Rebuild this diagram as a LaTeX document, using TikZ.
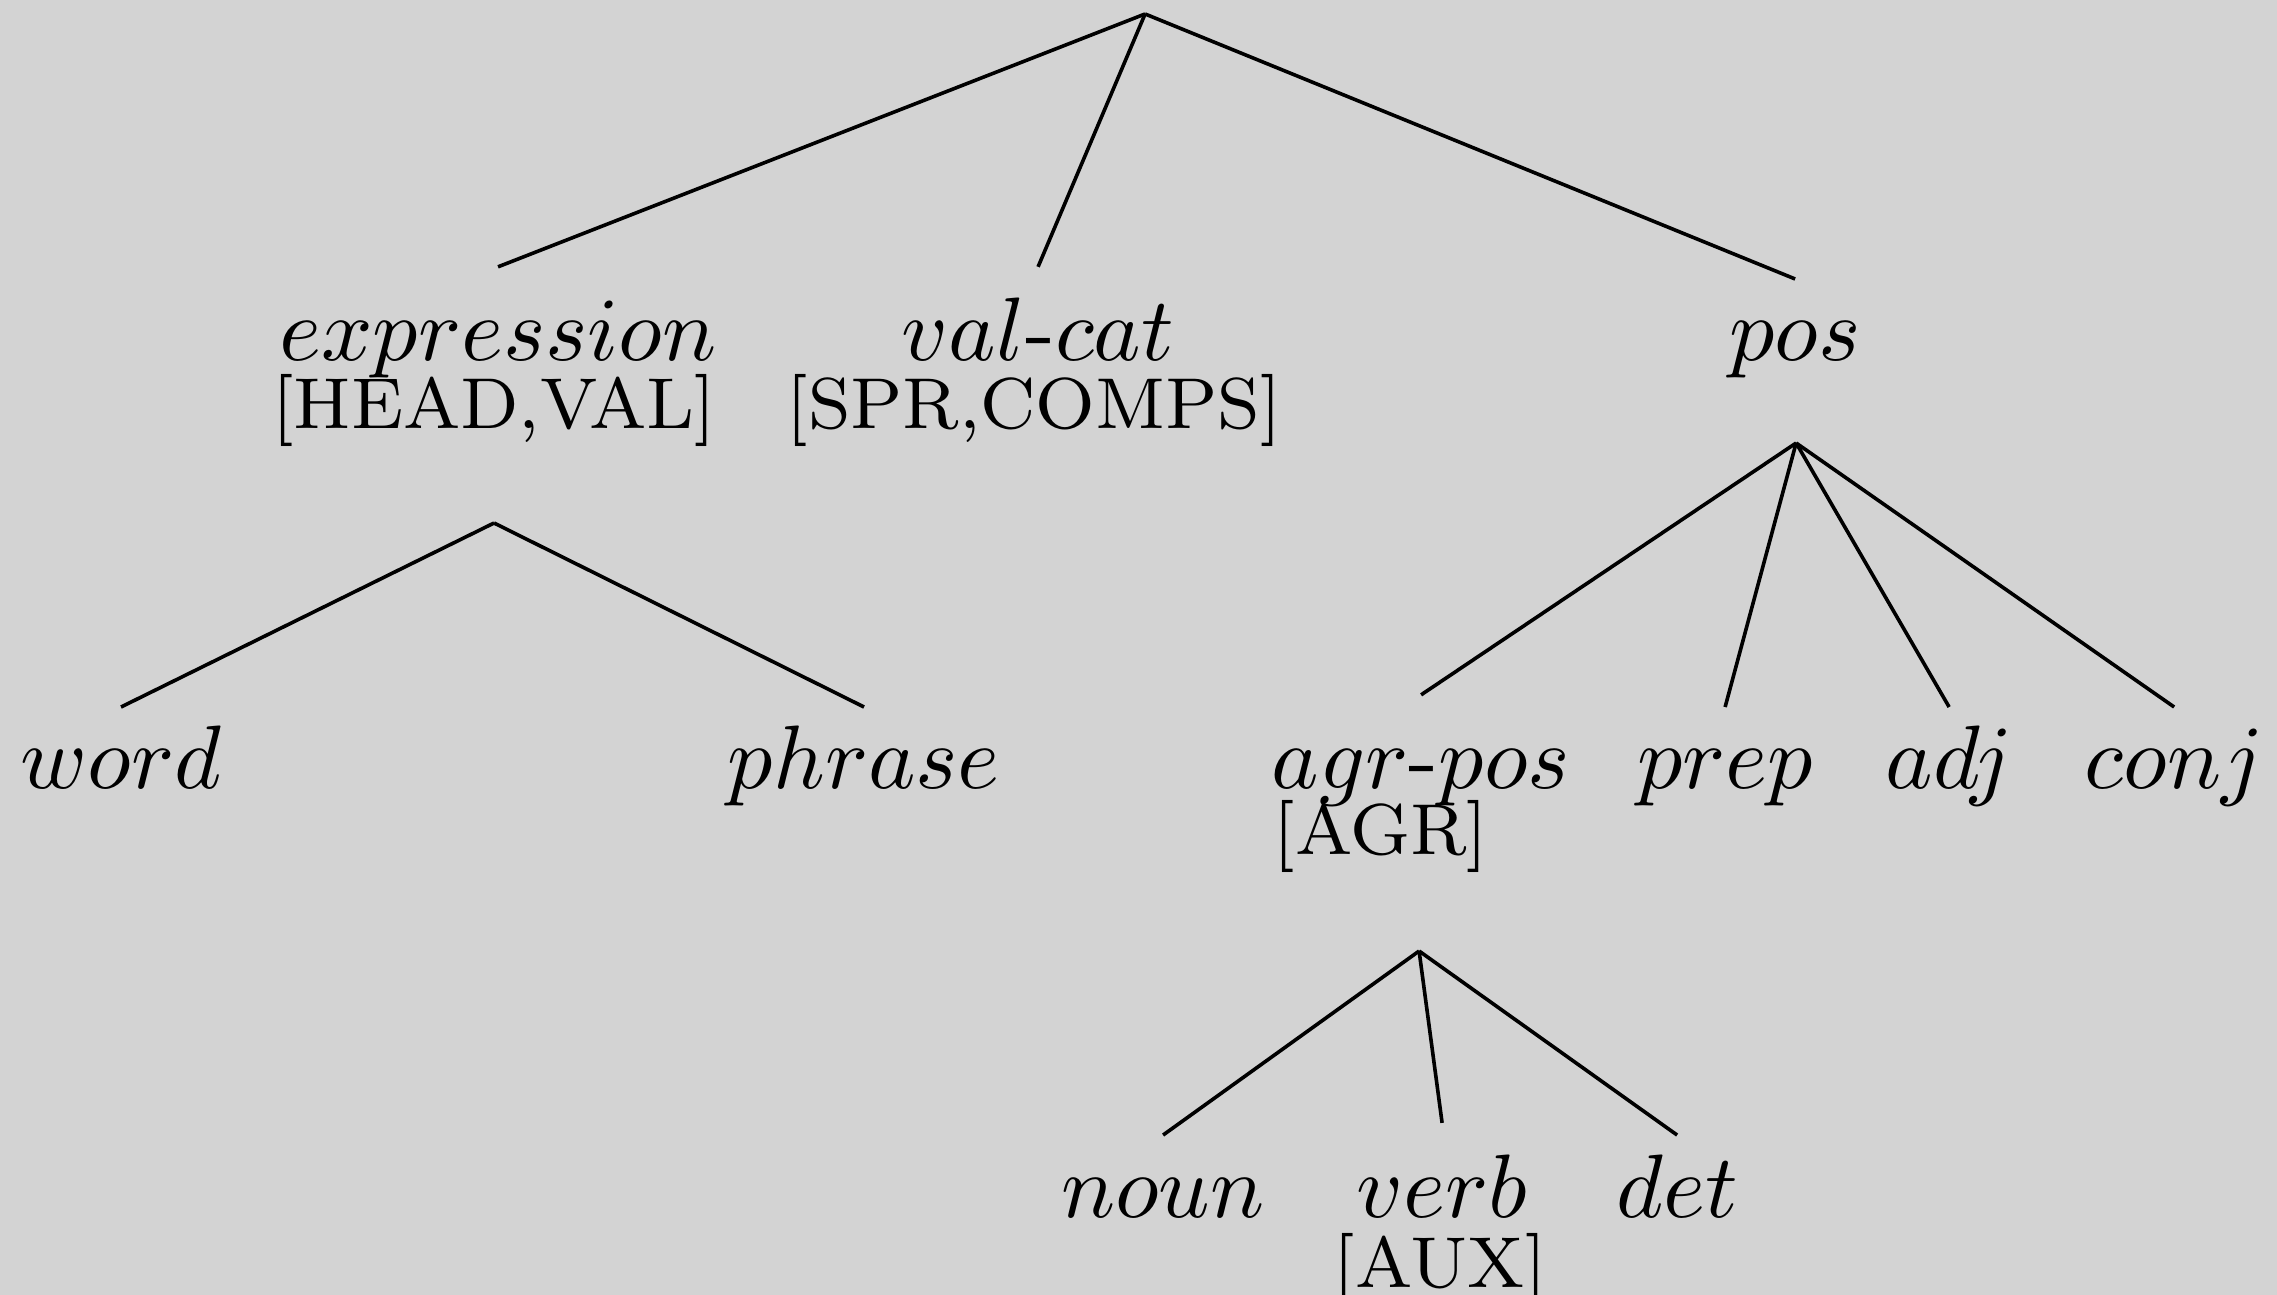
\documentclass[tikz,border=0pt]{standalone}
\usepackage{tikz}
\usepackage{color}
\definecolor{bggray}{RGB}{211,211,211}

\begin{document}
\begin{tikzpicture}[scale = 0.39,
		cat/.style = {anchor=base, inner xsep=0pt, inner ysep=2pt, text height=6.9pt},
		catf/.style = {cat, text height=8.25pt},
		feat/.style = {anchor=base, inner sep=0pt, font=\footnotesize}]

		\useasboundingbox (0, 0) rectangle (22.77, -12.95);
		\fill [color = bggray] (0, 0) rectangle (22.77, -12.95);

		\coordinate (top) at (11.45, -0.14);
		% first level
		\node[catf] (expr) at (4.98, -3.61) {$expression$};
		\node[feat] (exprf) at (4.94, -4.29) {[HEAD,VAL]};
		\node[catf] (valcat) at (10.38, -3.61) {$val$-$cat$};
		\node[feat] (valcatf) at (10.34, -4.29) {[SPR,COMPS]};
		\node[cat] (pos) at (17.95, -3.61) {$pos$};
		\draw (top) -- (expr.north);
		\draw (top) -- (valcat.north);
		\draw (top) -- (pos.north);
		% expression
		\coordinate (exprA) at (4.94, -5.23);
		\node[cat] (word) at (1.21, -7.89) {$word$};
		\node[cat] (phrase) at (8.64, -7.89) {$phrase$};
		\draw (exprA) -- (word.north);
		\draw (exprA) -- (phrase.north);
		% pos
		\coordinate (posA) at (17.96, -4.43);
		\node[catf] (agr) at (14.21, -7.89) {$agr$-$pos$};
		\node[feat, anchor=base west] (agrf) at (12.72, -8.55) {[AGR]};
		\node[cat] (prep) at (17.25, -7.89) {$prep$};
		\node[cat] (adj) at (19.49, -7.89) {$adj$};
		\node[cat] (conj) at (21.74, -7.89) {$conj$};
		\draw (posA) -- (agr.north);
		\draw (posA) -- (prep.north);
		\draw (posA) -- (adj.north);
		\draw (posA) -- (conj.north);
		% agr-pos
		\coordinate (agrA) at (14.19, -9.51);
		\node[cat] (noun) at (11.63, -12.17) {$noun$};
		\node[catf] (verb) at (14.42, -12.17) {$verb$};
		\node[feat] (verbf) at (14.40, -12.87) {[AUX]};
		\node[cat] (det) at (16.77, -12.17) {$det$};
		\draw (agrA) -- (noun.north);
		\draw (agrA) -- (verb.north);
		\draw (agrA) -- (det.north);
	\end{tikzpicture}
\end{document}
